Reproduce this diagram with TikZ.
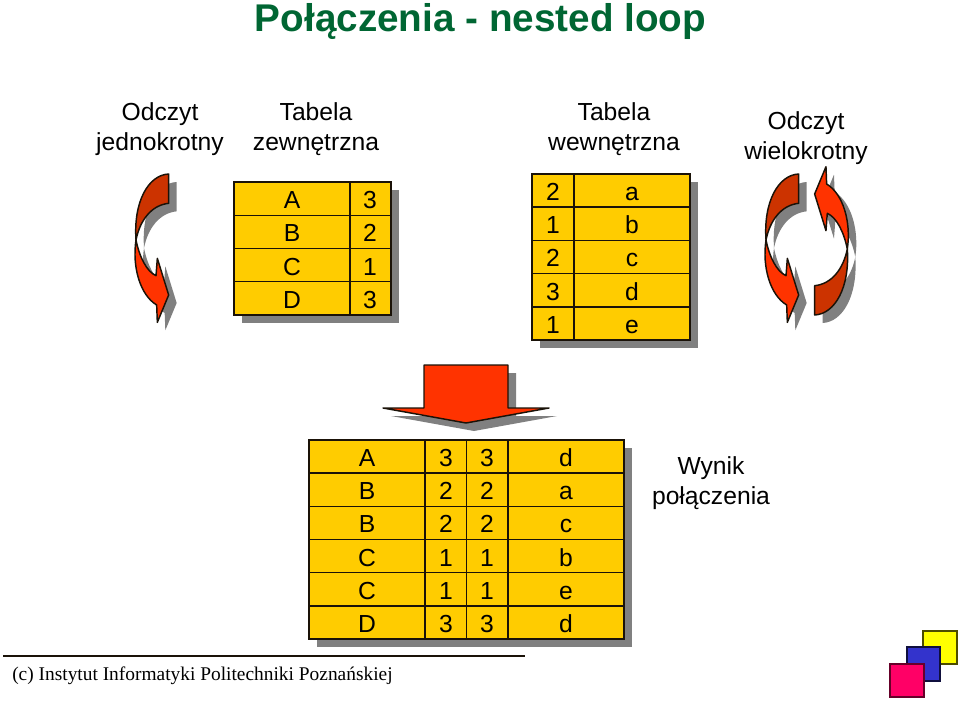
\documentclass[tikz,border=0pt]{standalone}
\usepackage{fontspec}
\setmainfont{Liberation Sans}
\newfontfamily\serifpl{Liberation Serif}
\definecolor{cellfill}{HTML}{FFCC00}
\definecolor{shadowgray}{HTML}{808080}
\definecolor{arrowdark}{HTML}{CC3300}
\definecolor{arrowlight}{HTML}{FF3300}
\definecolor{titlegreen}{HTML}{006633}
\definecolor{inkline}{HTML}{1A1208}
\definecolor{sqyellow}{HTML}{FFFF00}
\definecolor{sqblue}{HTML}{3333CC}
\definecolor{sqred}{HTML}{FF0066}
\newcommand{\upperpart}{(146,42) .. controls (85,45) and (40,125) .. (48,240) .. controls (60,180) and (95,135) .. (146,130) -- cycle}
\newcommand{\lowerpart}{(48,240) .. controls (36,320) and (60,405) .. (110,435) -- (112,487) -- (146,405) -- (112,295) -- (108,347) .. controls (80,335) and (58,290) .. (48,240) -- cycle}
\newcommand{\blockdown}{(424,365) -- (508,365) -- (508,408) -- (549,408) -- (466,423) -- (383,408) -- (424,408) -- cycle}
\tikzset{
  x=0.75pt,y=-0.75pt,
  lbl/.style={font=\fontsize{18.5}{22.5}\selectfont,align=center,inner sep=0pt,text=black},
  cell/.style={font=\fontsize{18.5}{22.5}\selectfont,anchor=base,inner sep=0pt,text=black},
  tablebox/.style={fill=cellfill,draw=inkline,line width=1.1pt},
  tablerule/.style={draw=inkline,line width=1.1pt},
  darkpart/.style={fill=arrowdark,draw=inkline,line width=1.1pt,line join=round},
  lightpart/.style={fill=arrowlight,draw=inkline,line width=1.1pt,line join=round},
  square/.style={line width=1pt},
}
\begin{document}
\begin{tikzpicture}
\useasboundingbox (0,0) rectangle (959,702);
% title and labels
\node[font=\fontsize{29}{34}\selectfont\bfseries,text=titlegreen,inner sep=0pt,anchor=base] (title) at (480.5,32) {Połączenia - nested loop};
\node[lbl] (l1) at (160,129) {Odczyt\\jednokrotny};
\node[lbl] (l2) at (316,129) {Tabela\\zewnętrzna};
\node[lbl] (l3) at (614,129) {Tabela\\wewnętrzna};
\node[lbl] (l4) at (806,138) {Odczyt\\wielokrotny};
\node[lbl] (l5) at (711,483) {Wynik\\połączenia};
% curved arrows
\begin{scope}[shift={(128,168)},xscale=1/3,yscale=1/3]
  \fill[shadowgray] \upperpart; \fill[shadowgray] \lowerpart;
\end{scope}
\begin{scope}[shift={(758,168)},xscale=1/3,yscale=1/3]
  \fill[shadowgray] \upperpart; \fill[shadowgray] \lowerpart;
\end{scope}
\begin{scope}[shift={(871.3,337)},xscale=-1/3,yscale=-1/3]
  \fill[shadowgray] \upperpart; \fill[shadowgray] \lowerpart;
\end{scope}
\begin{scope}[shift={(120,160)},xscale=1/3,yscale=1/3]
  \path[darkpart] \upperpart; \path[lightpart] \lowerpart;
\end{scope}
\begin{scope}[shift={(750,160)},xscale=1/3,yscale=1/3]
  \path[darkpart] \upperpart; \path[lightpart] \lowerpart;
\end{scope}
\begin{scope}[shift={(863.3,329)},xscale=-1/3,yscale=-1/3]
  \path[darkpart] \upperpart; \path[lightpart] \lowerpart;
\end{scope}
% table 1
\fill[shadowgray] (242,190) rectangle (399,323);
\path[tablebox] (234,182) rectangle (391,315);
\foreach \y in {215.25,248.5,281.75} \draw[tablerule] (234,\y) -- (391,\y);
\draw[tablerule] (350,182) -- (350,315);
\foreach \i/\a/\b in {0/A/3,1/B/2,2/C/1,3/D/3} {
  \node[cell] (ta\i) at (292,208.5+33.25*\i) {\a};
  \node[cell] (tb\i) at (370,208.5+33.25*\i) {\b};
}
% table 2
\fill[shadowgray] (540,182) rectangle (698,348);
\path[tablebox] (532,174) rectangle (690,340);
\foreach \y in {207.2,240.4,273.6,306.8} \draw[tablerule] (532,\y) -- (690,\y);
\draw[tablerule] (574,174) -- (574,340);
\foreach \i/\a/\b in {0/2/a,1/1/b,2/2/c,3/3/d,4/1/e} {
  \node[cell] (tc\i) at (553,200.5+33.2*\i) {\a};
  \node[cell] (td\i) at (632,200.5+33.2*\i) {\b};
}
% block arrow
\begin{scope}[shift={(8,8)}]
  \fill[shadowgray] \blockdown;
\end{scope}
\path[lightpart] \blockdown;
% table 3
\fill[shadowgray] (317,448) rectangle (632,647);
\path[tablebox] (309,440) rectangle (624,639);
\foreach \y in {473.17,506.33,539.5,572.67,605.83} \draw[tablerule] (309,\y) -- (624,\y);
\foreach \x in {425,466.5,508} \draw[tablerule] (\x,440) -- (\x,639);
\foreach \i/\a/\b/\c/\d in {0/A/3/3/d,1/B/2/2/a,2/B/2/2/c,3/C/1/1/b,4/C/1/1/e,5/D/3/3/d} {
  \node[cell] (te\i) at (367,466.5+33.17*\i) {\a};
  \node[cell] (tf\i) at (446,466.5+33.17*\i) {\b};
  \node[cell] (tg\i) at (487,466.5+33.17*\i) {\c};
  \node[cell] (th\i) at (566,466.5+33.17*\i) {\d};
}
% footer
\coordinate (rulea) at (3,656);
\coordinate (ruleb) at (525,656);
\draw[line width=1.6pt,color=inkline] (rulea) -- (ruleb);
\node[font=\serifpl\fontsize{14.55}{18}\selectfont,anchor=base west,inner sep=0pt] (foot) at (12,680.5) {(c) Instytut Informatyki Politechniki Poznańskiej};
% squares
\filldraw[square,fill=sqyellow,draw=black!70!sqyellow] (923,631) rectangle (957,664);
\filldraw[square,fill=sqblue,draw=black!70!sqblue] (907,647) rectangle (940,681);
\filldraw[square,fill=sqred,draw=black!60!sqred] (890,664) rectangle (924,697);
\end{tikzpicture}
\end{document}
